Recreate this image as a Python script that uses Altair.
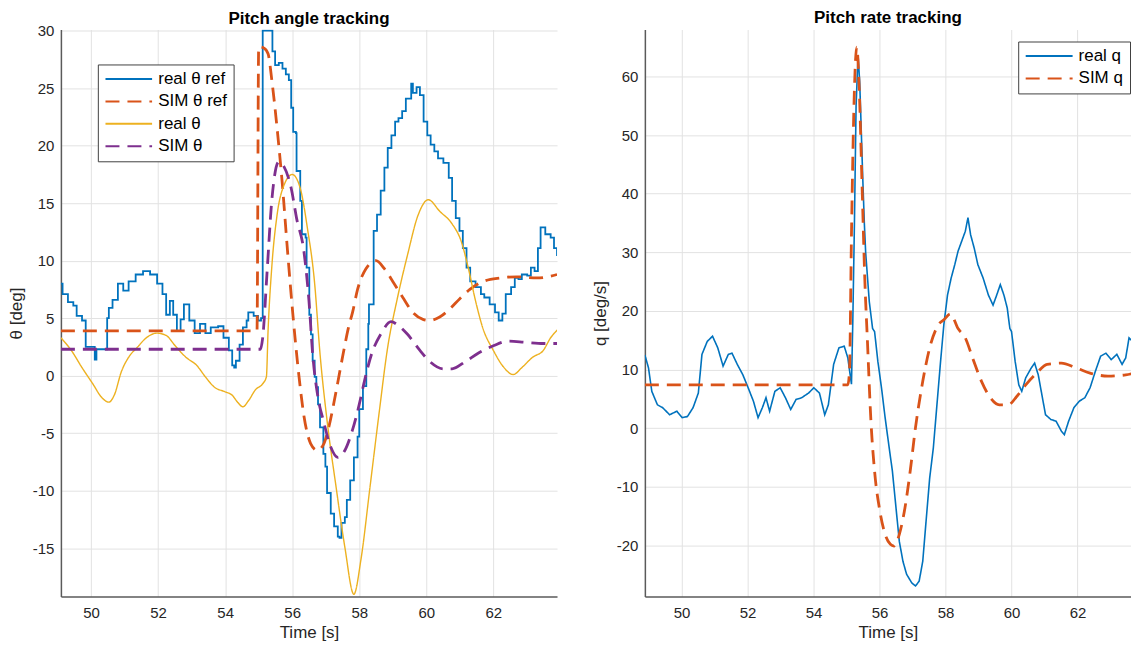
import altair as alt
import pandas as pd

# ---------------- Left panel: Pitch angle tracking ----------------
names_left = ["real θ ref", "SIM θ ref", "real θ", "SIM θ"]
colors_left = ["#0072BD", "#D95319", "#EDB120", "#7E2F8E"]

t_ref = [49.10, 49.15, 49.31, 49.47, 49.57, 49.73, 49.84, 50.11, 50.16, 50.21, 50.43, 50.48, 50.53, 50.64, 50.80, 50.96, 51.12, 51.33, 51.55, 51.76, 51.97, 52.13, 52.24, 52.35, 52.45, 52.56, 52.67, 52.77, 52.93, 53.09, 53.25, 53.41, 53.57, 53.79, 53.95, 54.11, 54.21, 54.27, 54.32, 54.43, 54.53, 54.64, 54.69, 54.85, 54.98, 55.07, 55.12, 55.39, 55.41, 55.49, 55.60, 55.71, 55.81, 55.90, 55.97, 56.03, 56.11, 56.13, 56.24, 56.29, 56.40, 56.43, 56.51, 56.56, 56.61, 56.67, 56.72, 56.77, 56.83, 56.93, 56.99, 57.04, 57.15, 57.25, 57.36, 57.41, 57.47, 57.57, 57.63, 57.73, 57.84, 57.95, 58.00, 58.11, 58.21, 58.27, 58.29, 58.43, 58.53, 58.64, 58.75, 58.85, 58.96, 59.07, 59.17, 59.28, 59.39, 59.55, 59.60, 59.71, 59.81, 59.92, 60.03, 60.13, 60.24, 60.35, 60.51, 60.67, 60.77, 60.88, 60.99, 61.09, 61.20, 61.31, 61.47, 61.63, 61.73, 61.89, 62.05, 62.16, 62.27, 62.37, 62.53, 62.64, 62.75, 62.85, 63.01, 63.12, 63.23, 63.33, 63.41, 63.55, 63.71, 63.81, 63.90]
v_ref = [8.0, 7.1, 6.4, 6.1, 5.2, 4.8, 2.5, 1.4, 2.3, 2.3, 2.3, 5.0, 5.9, 6.6, 8.0, 7.4, 8.2, 8.8, 9.1, 8.8, 8.0, 7.1, 5.3, 6.5, 5.3, 3.9, 4.9, 6.2, 4.8, 3.7, 4.5, 3.7, 4.2, 4.3, 3.3, 2.2, 0.9, 0.7, 1.3, 2.7, 4.2, 4.8, 5.5, 5.2, 4.8, 5.0, 30.0, 30.0, 28.2, 27.0, 27.2, 26.7, 26.2, 25.7, 23.3, 21.2, 21.1, 17.8, 15.2, 12.3, 12.0, 9.4, 5.3, 3.6, 1.3, -0.1, -1.0, -2.5, -4.5, -6.8, -7.9, -10.2, -12.0, -13.1, -14.0, -14.1, -12.8, -12.3, -10.8, -9.1, -7.1, -5.3, -2.9, -0.9, 2.3, 4.5, 6.2, 12.6, 14.0, 16.1, 18.1, 19.8, 20.9, 22.1, 22.4, 23.0, 24.1, 25.4, 24.6, 25.1, 24.4, 22.1, 20.9, 20.1, 19.5, 18.9, 18.5, 17.2, 15.2, 13.7, 12.6, 11.1, 9.4, 8.2, 7.7, 7.1, 6.8, 6.2, 5.5, 4.8, 5.4, 7.1, 7.7, 8.5, 8.4, 8.8, 8.7, 9.4, 9.1, 11.1, 12.9, 12.3, 12.0, 11.1, 10.4]

t_simref = [49.10, 54.95, 55.00, 55.15, 55.28, 55.40, 55.55, 55.71, 55.87, 56.03, 56.20, 56.35, 56.55, 56.75, 56.93, 57.09, 57.30, 57.52, 57.68, 57.80, 57.95, 58.20, 58.50, 58.75, 59.00, 59.30, 59.60, 59.90, 60.10, 60.40, 60.70, 61.00, 61.30, 61.70, 62.20, 62.70, 63.30, 63.90]
v_simref = [3.9, 3.9, 28.6, 28.5, 28.0, 25.5, 21.5, 16.5, 10.5, 5.0, 0.0, -3.5, -5.9, -6.5, -6.0, -4.5, -1.5, 1.9, 4.2, 5.5, 7.5, 9.3, 10.0, 9.3, 8.2, 6.8, 5.5, 4.9, 4.8, 5.1, 5.8, 6.7, 7.5, 8.2, 8.5, 8.6, 8.5, 8.8]

t_real = [49.10, 49.41, 49.73, 50.05, 50.32, 50.53, 50.69, 50.91, 51.12, 51.39, 51.65, 51.97, 52.24, 52.51, 52.83, 53.15, 53.41, 53.68, 54.00, 54.21, 54.37, 54.53, 54.69, 54.91, 55.12, 55.23, 55.28, 55.39, 55.55, 55.76, 56.00, 56.24, 56.45, 56.67, 56.83, 57.04, 57.31, 57.57, 57.84, 58.05, 58.32, 58.59, 58.85, 59.12, 59.44, 59.76, 60.06, 60.40, 60.77, 61.04, 61.25, 61.47, 61.68, 62.00, 62.32, 62.59, 62.85, 63.17, 63.49, 63.71, 63.92]
v_real = [3.3, 2.2, 0.7, -0.7, -1.9, -2.3, -1.7, 0.4, 1.6, 2.5, 3.3, 3.7, 3.5, 2.6, 1.6, 0.9, -0.1, -1.0, -1.4, -1.7, -2.3, -2.7, -2.2, -1.2, -0.7, -0.1, 3.9, 9.4, 14.0, 16.6, 17.5, 16.3, 12.9, 8.0, 1.9, -3.9, -9.7, -14.9, -19.0, -16.0, -9.7, -3.3, 2.5, 6.5, 10.5, 14.0, 15.3, 14.3, 13.2, 11.7, 9.4, 6.5, 4.2, 2.2, 0.7, 0.1, 0.7, 1.6, 2.2, 3.3, 4.0]

t_sim = [49.10, 55.05, 55.12, 55.25, 55.39, 55.60, 55.75, 55.97, 56.13, 56.35, 56.50, 56.61, 56.77, 56.93, 57.15, 57.36, 57.57, 57.79, 58.00, 58.16, 58.37, 58.64, 58.95, 59.15, 59.44, 59.81, 60.08, 60.51, 60.77, 61.15, 61.57, 62.00, 62.43, 62.96, 63.49, 63.92]
v_sim = [2.3, 2.3, 3.3, 9.0, 15.2, 18.6, 18.2, 16.3, 13.7, 10.8, 6.5, 1.9, -1.9, -3.9, -6.2, -7.1, -6.5, -4.8, -2.5, -0.4, 1.9, 3.6, 4.7, 4.4, 3.6, 2.2, 1.3, 0.6, 0.6, 1.2, 2.0, 2.6, 3.0, 2.9, 2.8, 2.8]

# ---------------- Right panel: Pitch rate tracking ----------------
names_right = ["real q", "SIM q"]
colors_right = ["#0072BD", "#D95319"]

t_q = [48.89, 49.00, 49.10, 49.27, 49.43, 49.64, 49.86, 50.02, 50.18, 50.35, 50.51, 50.62, 50.78, 50.94, 51.10, 51.26, 51.42, 51.53, 51.69, 51.86, 52.02, 52.18, 52.32, 52.45, 52.56, 52.67, 52.83, 52.99, 53.15, 53.31, 53.47, 53.64, 53.85, 54.01, 54.18, 54.34, 54.45, 54.61, 54.77, 54.93, 55.04, 55.15, 55.19, 55.24, 55.29, 55.35, 55.40, 55.44, 55.49, 55.54, 55.58, 55.69, 55.79, 55.85, 55.95, 56.06, 56.17, 56.28, 56.39, 56.50, 56.60, 56.71, 56.82, 56.98, 57.09, 57.20, 57.31, 57.41, 57.52, 57.63, 57.74, 57.85, 57.95, 58.06, 58.17, 58.28, 58.38, 58.49, 58.60, 58.68, 58.76, 58.87, 58.98, 59.14, 59.30, 59.44, 59.55, 59.66, 59.77, 59.87, 59.95, 60.00, 60.11, 60.22, 60.31, 60.43, 60.60, 60.70, 60.81, 60.92, 61.03, 61.19, 61.35, 61.51, 61.60, 61.73, 61.89, 62.05, 62.22, 62.38, 62.54, 62.70, 62.86, 63.02, 63.19, 63.35, 63.46, 63.56, 63.67, 63.78, 63.87]
v_q = [12.5, 10.3, 6.3, 4.0, 3.5, 2.3, 2.9, 1.8, 2.0, 3.5, 6.0, 12.6, 14.8, 15.7, 13.7, 10.6, 12.6, 12.8, 10.9, 9.1, 6.9, 4.6, 1.8, 3.5, 5.2, 2.9, 6.3, 6.9, 5.2, 3.2, 4.9, 5.2, 6.0, 6.9, 6.0, 2.3, 4.0, 10.9, 13.7, 14.0, 12.0, 7.5, 18.0, 35.0, 55.0, 63.6, 59.0, 52.0, 43.0, 35.0, 30.0, 21.6, 17.0, 16.5, 11.4, 6.9, 1.8, -2.8, -7.3, -13.6, -19.3, -22.7, -24.9, -26.4, -26.9, -26.1, -22.7, -15.9, -8.5, -3.4, 4.0, 11.4, 17.7, 22.7, 25.6, 27.9, 30.2, 31.9, 33.6, 35.9, 33.0, 30.7, 27.9, 25.6, 22.7, 21.0, 22.7, 24.5, 22.7, 20.5, 17.0, 16.5, 11.4, 7.4, 6.3, 8.6, 10.3, 11.1, 9.1, 5.7, 2.3, 1.5, 1.2, -0.5, -1.1, 1.2, 3.5, 4.6, 5.2, 6.9, 9.7, 12.3, 12.8, 11.7, 12.6, 10.9, 12.0, 15.4, 14.8, 13.1, 12.0]

t_simq = [48.89, 55.04, 55.09, 55.15, 55.23, 55.31, 55.38, 55.47, 55.56, 55.63, 55.74, 55.85, 56.01, 56.17, 56.33, 56.44, 56.60, 56.77, 56.93, 57.09, 57.31, 57.52, 57.79, 57.95, 58.15, 58.38, 58.60, 58.82, 59.09, 59.36, 59.63, 59.90, 60.17, 60.43, 60.76, 61.08, 61.51, 61.95, 62.38, 62.92, 63.46, 63.87]
v_simq = [7.4, 7.4, 9.7, 33.0, 55.9, 65.0, 58.7, 41.6, 24.5, 15.4, 1.2, -7.3, -14.1, -18.1, -19.8, -20.1, -18.1, -13.6, -7.3, 0.1, 8.0, 13.7, 17.7, 18.5, 19.5, 17.0, 15.4, 12.0, 8.0, 5.2, 4.0, 4.0, 5.5, 7.4, 9.4, 10.9, 11.1, 10.3, 9.4, 8.9, 9.1, 9.7]

x_ticks = [50, 52, 54, 56, 58, 60, 62]
y_ticks_left = [-15, -10, -5, 0, 5, 10, 15, 20, 25, 30]
y_ticks_right = [-20, -10, 0, 10, 20, 30, 40, 50, 60]

SOLID = [1, 0]
DASH = [14, 8]
FONT = "Liberation Sans"
TXT = "#262626"


def frame(t, v, name):
    return pd.DataFrame({"t": t, "v": v, "series": name})


def axis(title, values, label_pad, title_pad, extent=None):
    kw = dict(
        title=title, values=values, grid=True, gridColor="#e2e2e2", gridWidth=1,
        ticks=False, domainColor="#5a5a5a", domainWidth=1.5,
        labelFont=FONT, labelFontSize=15, labelColor=TXT, labelPadding=label_pad,
        labelExpr="'' + datum.value",
        titleFont=FONT, titleFontSize=17, titleFontWeight="normal", titleColor=TXT,
        titlePadding=title_pad, labelFlush=False,
    )
    if extent is not None:
        kw["minExtent"] = extent
        kw["maxExtent"] = extent
    return alt.Axis(**kw)


def legend(lx, ly, size):
    return alt.Legend(
        title=None, orient="none", legendX=lx, legendY=ly,
        symbolType="stroke", symbolSize=size, symbolStrokeWidth=2,
        labelFont=FONT, labelFontSize=17, labelColor="#000", labelOffset=5,
        labelLimit=300, padding=6.5, rowPadding=5.5, clipHeight=16,
        strokeColor="#404040", fillColor="white", cornerRadius=0,
    )


def panel(series, names, colors, dashes, xdom, ydom, yticks, ytitle, leg, width, height, title, title_dy):
    xs = alt.Scale(domain=xdom, nice=False, zero=False)
    ys = alt.Scale(domain=ydom, nice=False, zero=False)
    cs = alt.Scale(domain=names, range=colors)
    ds = alt.Scale(domain=names, range=dashes)
    xa = axis("Time [s]", x_ticks, 9, 4)
    ya = axis(ytitle, yticks, 7, 5, extent=30)
    layers = []
    for df, sw, interp in series:
        layers.append(
            alt.Chart(df).mark_line(strokeWidth=sw, interpolate=interp, clip=True).encode(
                x=alt.X("t:Q", scale=xs, axis=xa),
                y=alt.Y("v:Q", scale=ys, axis=ya),
                color=alt.Color("series:N", scale=cs, legend=leg),
                strokeDash=alt.StrokeDash("series:N", scale=ds, legend=leg),
            )
        )
    return alt.layer(*layers).properties(
        width=width, height=height,
        title=alt.TitleParams(title, font=FONT, fontSize=17, fontWeight="bold",
                              color="#000", offset=3, anchor="middle", frame="group",
                              dy=title_dy),
    )


left = panel(
    [
        (frame(t_ref, v_ref, names_left[0]), 1.8, "step-after"),
        (frame(t_simref, v_simref, names_left[1]), 2.8, "monotone"),
        (frame(t_real, v_real, names_left[2]), 1.4, "monotone"),
        (frame(t_sim, v_sim, names_left[3]), 2.8, "monotone"),
    ],
    names_left, colors_left, [SOLID, DASH, SOLID, DASH],
    [49.1, 63.9], [-19.2, 30.1], y_ticks_left, "θ [deg]",
    legend(37, 35, 2180), 497, 568, "Pitch angle tracking", 7.5,
)

right = panel(
    [
        (frame(t_q, v_q, names_right[0]), 1.6, "linear"),
        (frame(t_simq, v_simq, names_right[1]), 2.8, "monotone"),
    ],
    names_right, colors_right, [SOLID, DASH],
    [48.89, 63.62], [-28.7, 68.0], y_ticks_right, "q [deg/s]",
    legend(374, 12, 2209), 487, 568, "Pitch rate tracking", 0,
)

chart = (
    alt.hconcat(left, right, spacing=35)
    .resolve_scale(x="independent", y="independent", color="independent", strokeDash="independent")
    .resolve_legend(color="independent", strokeDash="independent")
    .properties(padding={"left": 0, "top": 0, "right": 0, "bottom": 0}, background="white")
    .configure_view(stroke=None)
)

chart.save("out.html", embed_options={"renderer": "svg", "actions": False})
